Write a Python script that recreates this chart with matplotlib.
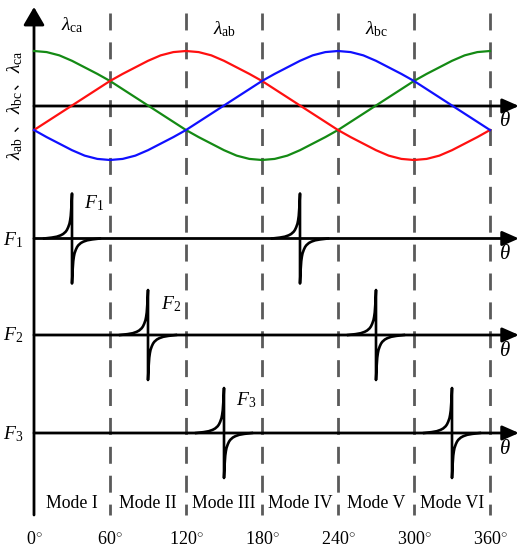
import matplotlib
matplotlib.use("Agg")
import matplotlib.pyplot as plt

plt.rcParams["mathtext.fontset"] = "custom"
plt.rcParams["mathtext.rm"] = "Liberation Serif"
plt.rcParams["mathtext.it"] = "Liberation Serif:italic"
plt.rcParams["mathtext.bf"] = "Liberation Serif:bold"
plt.rcParams["font.family"] = ["Liberation Serif", "Noto Sans CJK SC"]
plt.rcParams["lines.scale_dashes"] = False

# ---------------- data ----------------
theta = list(range(0, 361, 10))
lam_ca = [1.00, 0.98, 0.92, 0.82, 0.70, 0.58, 0.45, 0.30, 0.15, 0.00, -0.15, -0.30,
          -0.45, -0.58, -0.70, -0.82, -0.92, -0.98, -1.00, -0.98, -0.92, -0.82, -0.70, -0.58,
          -0.45, -0.30, -0.15, 0.00, 0.15, 0.30, 0.45, 0.58, 0.70, 0.82, 0.92, 0.98, 1.00]
lam_ab = [-0.45, -0.30, -0.15, 0.00, 0.15, 0.30, 0.45, 0.58, 0.70, 0.82, 0.92, 0.98,
          1.00, 0.98, 0.92, 0.82, 0.70, 0.58, 0.45, 0.30, 0.15, 0.00, -0.15, -0.30,
          -0.45, -0.58, -0.70, -0.82, -0.92, -0.98, -1.00, -0.98, -0.92, -0.82, -0.70, -0.58, -0.45]
lam_bc = [-0.45, -0.58, -0.70, -0.82, -0.92, -0.98, -1.00, -0.98, -0.92, -0.82, -0.70, -0.58,
          -0.45, -0.30, -0.15, 0.00, 0.15, 0.30, 0.45, 0.58, 0.70, 0.82, 0.92, 0.98,
          1.00, 0.98, 0.92, 0.82, 0.70, 0.58, 0.45, 0.30, 0.15, 0.00, -0.15, -0.30, -0.45]

spike_offset = [-22, -16, -12, -9, -7, -5, -4, -3, -2, -1.5, -1, -0.5, 0]
spike_rise = [0.0, 0.02, 0.04, 0.07, 0.10, 0.15, 0.19, 0.25, 0.33, 0.40, 0.50, 0.70, 1.00]
F1_centers = [30, 210]
F2_centers = [90, 270]
F3_centers = [150, 330]

mode_bounds = [0, 60, 120, 180, 240, 300, 360]
mode_labels = ["Mode I", "Mode II", "Mode III", "Mode IV", "Mode V", "Mode VI"]
deg_labels = ["0", "60", "120", "180", "240", "300", "360"]

# ---------------- layout ----------------
W, H = 524, 550
fig = plt.figure(figsize=(W / 100, H / 100), dpi=100)
X0 = 34.0          # pixel x of theta=0
PX_PER_DEG = 76.0 / 60.0
xlim = (-X0 / PX_PER_DEG, (W - X0) / PX_PER_DEG)


def make_axes(base_px, amp_px):
    a = fig.add_axes([0, 0, 1, 1])
    a.set_xlim(*xlim)
    a.set_ylim((base_px - H) / amp_px, base_px / amp_px)
    a.axis("off")
    a.patch.set_alpha(0)
    return a


bg = fig.add_axes([0, 0, 1, 1])
bg.set_xlim(*xlim)
bg.set_ylim(H, 0)
bg.axis("off")
px = lambda x: (x - X0) / PX_PER_DEG

# dashed mode boundaries
for b in mode_bounds[1:]:
    bg.plot([b, b], [12.7, 515], color="#5a5a5a", lw=2.0,
            linestyle=(0, (12.2, 8.6)), solid_capstyle="butt", zorder=1)

# axes arrows
tip_x = px(519)
for yb in [106, 238.5, 335, 433]:
    bg.annotate("", xy=(tip_x, yb), xytext=(0, yb),
                arrowprops=dict(arrowstyle="-|>,head_length=0.5,head_width=0.22",
                                mutation_scale=20, lw=2.0, color="k",
                                shrinkA=0, shrinkB=0), zorder=3)
    bg.text(px(505), yb + 16, r"$\theta$", fontsize=15, ha="center", va="center")
bg.annotate("", xy=(0, 7), xytext=(0, 515),
            arrowprops=dict(arrowstyle="-|>,head_length=0.55,head_width=0.32",
                            mutation_scale=20, lw=2.0, color="k",
                            shrinkA=0, shrinkB=0), zorder=3)

# lambda curves
lam_ax = make_axes(105.5, 54.5)
lam_ax.plot(theta, lam_ca, color="#148a14", lw=1.6, zorder=4)
lam_ax.plot(theta, lam_ab, color="#ff1010", lw=1.6, zorder=4)
lam_ax.plot(theta, lam_bc, color="#1010ff", lw=1.6, zorder=4)


def spike(a, c):
    xs = [c + o for o in spike_offset] + [c - o for o in spike_offset[::-1]]
    ys = list(spike_rise) + [-r for r in spike_rise[::-1]]
    a.plot(xs, ys, color="k", lw=1.9, zorder=4)


for base, centers in [(238.5, F1_centers), (335, F2_centers), (433, F3_centers)]:
    fa = make_axes(base, 45.0)
    for c in centers:
        spike(fa, c)

# text
bg.text(px(72), 25, r"$\lambda_{\rm ca}$", fontsize=14, ha="center", va="center")
bg.text(px(225), 29, r"$\lambda_{\rm ab}$", fontsize=14, ha="center", va="center")
bg.text(px(377), 29, r"$\lambda_{\rm bc}$", fontsize=14, ha="center", va="center")

# rotated y label, built from pieces
for lbl, y in [(r"$\lambda_{\rm ab}$", 148), (r"$\lambda_{\rm bc}$", 102), (r"$\lambda_{\rm ca}$", 62)]:
    bg.text(px(15), y, lbl, fontsize=14, ha="center", va="center", rotation=90)
for y in [124, 82]:
    bg.text(px(14), y, "、", fontsize=12, ha="center", va="center", rotation=90,
            family="Noto Sans CJK SC")

for lbl, y in [(r"$F_1$", 240), (r"$F_2$", 335), (r"$F_3$", 434)]:
    bg.text(px(13), y, lbl, fontsize=14, ha="center", va="center")
for lbl, x, y in [(r"$F_1$", 94, 203), (r"$F_2$", 171, 304), (r"$F_3$", 246, 400)]:
    bg.text(px(x), y, lbl, fontsize=14, ha="center", va="center")

for i, m in enumerate(mode_labels):
    bg.text((mode_bounds[i] + mode_bounds[i + 1]) / 2, 503, m, fontsize=12.8,
            ha="center", va="center")
for b, d in zip(mode_bounds, deg_labels):
    bg.text(b, 540, d + r"$^{\circ}$", fontsize=13, ha="center", va="center")

fig.savefig("out.png", dpi=100)
